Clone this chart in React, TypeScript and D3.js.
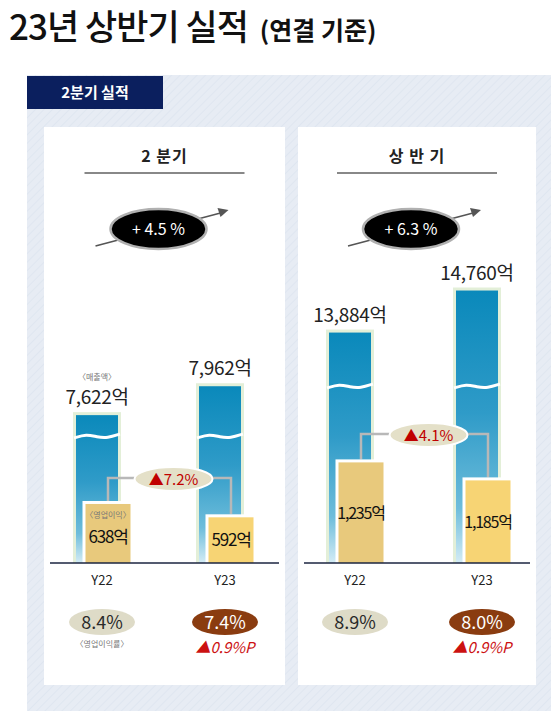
import React from "react";
import * as d3 from "d3";

const years = ["Y22", "Y23"];
const q2Revenue = [7622, 7962];
const q2OpIncome = [638, 592];
const q2Margin = [8.4, 7.4];
const h1Revenue = [13884, 14760];
const h1OpIncome = [1235, 1185];
const h1Margin = [8.9, 8.0];
const panelTitles = ["2 분기", "상 반 기"];
const revenueGrowth = ["+ 4.5 %", "+ 6.3 %"];
const opIncomeChange = ["▲7.2%", "▲4.1%"];
const marginChange = ["▲0.9%P", "▲0.9%P"];

const FONT = "'Noto Sans CJK KR', 'Noto Sans', sans-serif";

type PanelProps = {
  x0: number;
  x1: number;
  xRange: [number, number];
  title: string;
  growth: string;
  revenue: number[];
  opIncome: number[];
  margin: number[];
  opChange: string;
  mChange: string;
  revDomain: [number, number];
  revRange: [number, number];
  opDomain: [number, number];
  opRange: [number, number];
  breakY: number;
  connY: number;
  showNotes: boolean;
};

function Panel(p: PanelProps) {
  const baseY = 563;
  const cx = (p.x0 + p.x1) / 2;
  const xs = d3.scalePoint().domain(years).range(p.xRange);
  const rev = d3.scaleLinear().domain(p.revDomain).range(p.revRange);
  const op = d3.scaleLinear().domain(p.opDomain).range(p.opRange);
  const bw = 42;
  const yw = 45;
  const centers = years.map((y) => xs(y) as number);
  const fmt = d3.format(",");
  const idx = p.showNotes ? 0 : 1;
  const opX = centers.map((c) => c + 6);
  const revX = centers.map((c) => c - 5);
  const ellCx = (opX[0] + opX[1]) / 2 + 4;
  const opTops = p.opIncome.map((v) => op(v));
  const revTops = p.revenue.map((v) => rev(v));
  const connY = p.connY;
  const wave = (x: number, w: number) => {
    const line = d3.line().curve(d3.curveBasis);
    return line([
      [x - 2, p.breakY + 2],
      [x + w * 0.25, p.breakY - 2],
      [x + w * 0.5, p.breakY + 1],
      [x + w * 0.75, p.breakY + 2],
      [x + w + 2, p.breakY - 2],
    ]) as string;
  };
  return (
    <g>
      <rect x={p.x0} y={127} width={p.x1 - p.x0} height={558} fill="#ffffff" />
      <text x={cx} y={162} textAnchor="middle" fontFamily={FONT} fontSize={16} fontWeight={700} fill="#222" letterSpacing={1}>
        {p.title}
      </text>
      <line x1={cx - 80} x2={cx + 80} y1={173} y2={173} stroke="#888" strokeWidth={2} />
      {/* growth arrow */}
      <line x1={cx - 69} y1={246} x2={cx + 56} y2={213} stroke="#555" strokeWidth={1.6} />
      <path d={`M${cx + 64},210 L${cx + 53},208 L${cx + 56},217 Z`} fill="#555" />
      <ellipse cx={cx - 6} cy={229} rx={48} ry={20} fill="#000" stroke="#b0b0b0" strokeWidth={2.5} />
      <text x={cx - 6} y={235} textAnchor="middle" fontFamily={FONT} fontSize={16} fill="#fff">
        {p.growth}
      </text>
      {/* revenue bars */}
      {years.map((y, i) => {
        const c = revX[i];
        const top = revTops[i];
        return (
          <g key={"rev" + y}>
            <rect x={c - bw / 2 - 3} y={top - 3} width={bw + 6} height={baseY - top + 3} fill="#e3efd8" />
            <rect x={c - bw / 2} y={top} width={bw} height={baseY - top} fill={`url(#blueGrad${idx})`} />
            <path d={wave(c - bw / 2, bw)} stroke="#fff" strokeWidth={3} fill="none" />
            <text x={c} y={top - 11} textAnchor="middle" fontFamily={FONT} fontSize={19} fill="#222" letterSpacing={-0.3}>
              {fmt(p.revenue[i]) + "억"}
            </text>
          </g>
        );
      })}
      {p.showNotes && (
        <text x={revX[0]} y={revTops[0] - 35} textAnchor="middle" fontFamily={FONT} fontSize={8} fill="#777">
          〈매출액〉
        </text>
      )}
      {/* connectors */}
      <polyline
        points={`${opX[0]},${opTops[0] - 3} ${opX[0]},${connY} ${opX[1]},${connY} ${opX[1]},${opTops[1] - 3}`}
        fill="none"
        stroke="#b8b8b8"
        strokeWidth={2.5}
      />
      <ellipse cx={ellCx} cy={connY + 1} rx={39} ry={12} fill="#e4e0c8" stroke="#fff" strokeWidth={2} />
      <text x={ellCx} y={connY + 7} textAnchor="middle" fontFamily={FONT} fontSize={15} fill="#c00000">
        {p.opChange}
      </text>
      {/* op income bars */}
      {years.map((y, i) => {
        const c = opX[i];
        const top = opTops[i];
        const mid = (top + baseY) / 2;
        return (
          <g key={"op" + y}>
            <rect x={c - yw / 2 - 3} y={top - 3} width={yw + 6} height={baseY - top + 3} fill="#ffffff" />
            <rect x={c - yw / 2} y={top} width={yw} height={baseY - top} fill={i === 0 ? "#e8c97c" : "#f7d474"} />
            <text
              x={c}
              y={p.showNotes && i === 0 ? mid + 10 : mid + 6}
              textAnchor="middle"
              fontFamily={FONT}
              fontSize={p.showNotes ? 17 : 16}
              fill="#111"
              letterSpacing={-1.2}
            >
              {fmt(p.opIncome[i]) + "억"}
            </text>
            {p.showNotes && i === 0 && (
              <text x={c} y={top + 14} textAnchor="middle" fontFamily={FONT} fontSize={8} fill="#777">
                〈영업이익〉
              </text>
            )}
          </g>
        );
      })}
      <line x1={p.x0 + 6} x2={p.x1 - 6} y1={baseY} y2={baseY} stroke="#1b2440" strokeWidth={1.6} />
      {/* year labels and margins */}
      {years.map((y, i) => {
        const c = centers[i];
        return (
          <g key={"m" + y}>
            <text x={c} y={585} textAnchor="middle" fontFamily={FONT} fontSize={13} fill="#222">
              {y}
            </text>
            <ellipse cx={c} cy={622} rx={33} ry={13} fill={i === 0 ? "#dedbc7" : "#8a3c10"} />
            <text x={c} y={628.5} textAnchor="middle" fontFamily={FONT} fontSize={18} fill={i === 0 ? "#2a2a2a" : "#fff"}>
              {d3.format(".1f")(p.margin[i]) + "%"}
            </text>
          </g>
        );
      })}
      {p.showNotes && (
        <text x={centers[0]} y={647} textAnchor="middle" fontFamily={FONT} fontSize={8} fill="#777">
          〈영업이익률〉
        </text>
      )}
      <text x={centers[1]} y={653} textAnchor="middle" fontFamily={FONT} fontSize={15} fontStyle="italic" fill="#cc1111">
        {p.mChange}
      </text>
    </g>
  );
}

export default function App() {
  return (
    <svg width={559} height={711} style={{ position: "absolute", left: 0, top: 0 }}>
      <defs>
        <pattern id="stripes" width={6} height={6} patternUnits="userSpaceOnUse" patternTransform="rotate(45)">
          <rect width={6} height={6} fill="#e7ecf4" />
          <line x1={0} y1={0} x2={0} y2={6} stroke="#dfe6f0" strokeWidth={2} />
        </pattern>
        {[0, 1].map((i) => (
          <linearGradient key={i} id={`blueGrad${i}`} x1="0" y1="0" x2="0" y2="1">
            <stop offset="0%" stopColor="#0a89bb" />
            <stop offset="45%" stopColor="#2f9bc8" />
            <stop offset="80%" stopColor="#6ebddb" />
            <stop offset="100%" stopColor="#d4ecf5" />
          </linearGradient>
        ))}
      </defs>
      <rect x={0} y={0} width={559} height={711} fill="#fff" />
      <text x={9} y={40} fontFamily={FONT} fontSize={35} fontWeight={500} fill="#111" letterSpacing={-1}>
        23년 상반기 실적
        <tspan fontSize={25} fontWeight={700} dx={12} letterSpacing={0}>(연결 기준)</tspan>
      </text>
      <rect x={27} y={75} width={524} height={636} fill="url(#stripes)" />
      <rect x={27} y={76} width={136} height={33} fill="#0b1f5e" />
      <text x={95} y={98} textAnchor="middle" fontFamily={FONT} fontSize={15} fontWeight={700} fill="#fff">
        2분기 실적
      </text>
      <Panel
        x0={44}
        x1={285}
        xRange={[102, 225]}
        title={panelTitles[0]}
        growth={revenueGrowth[0]}
        revenue={q2Revenue}
        opIncome={q2OpIncome}
        margin={q2Margin}
        opChange={opIncomeChange[0]}
        mChange={marginChange[0]}
        revDomain={[7000, 8000]}
        revRange={[468, 383]}
        opDomain={[500, 700]}
        opRange={[544, 486]}
        breakY={436}
        connY={478}
        showNotes={true}
      />
      <Panel
        x0={298}
        x1={536}
        xRange={[355, 482]}
        title={panelTitles[1]}
        growth={revenueGrowth[1]}
        revenue={h1Revenue}
        opIncome={h1OpIncome}
        margin={h1Margin}
        opChange={opIncomeChange[1]}
        mChange={marginChange[1]}
        revDomain={[13000, 15000]}
        revRange={[375, 279]}
        opDomain={[1000, 1300]}
        opRange={[547, 439]}
        breakY={386}
        connY={434}
        showNotes={false}
      />
    </svg>
  );
}
